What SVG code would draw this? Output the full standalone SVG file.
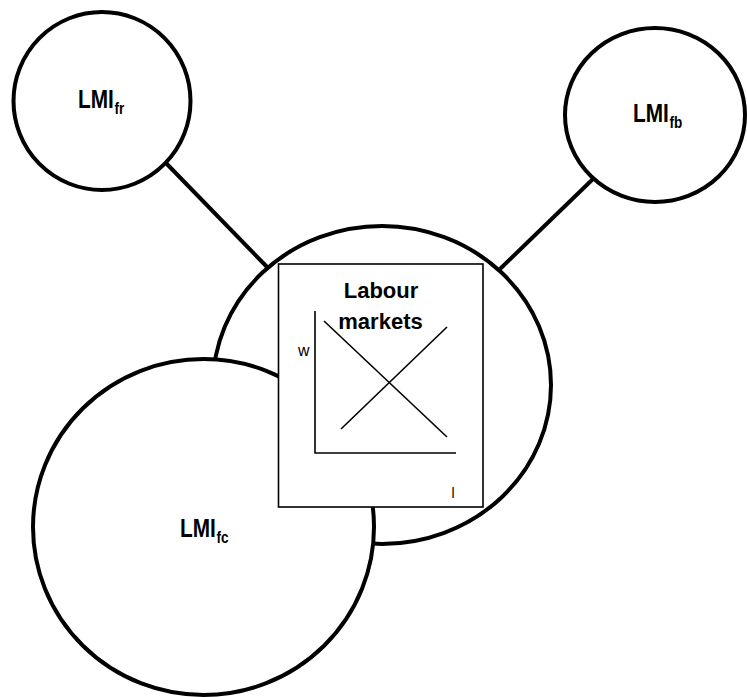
<svg xmlns="http://www.w3.org/2000/svg" width="747" height="697" viewBox="0 0 747 697">
<style>
.node{fill:#fff;stroke:#000;stroke-width:4}
.conn{stroke:#000;stroke-width:4;fill:none}
.box{fill:#fff;stroke:#000;stroke-width:1.6}
.thin{stroke:#000;stroke-width:1.6;fill:none}
.lbl{font-family:"Liberation Sans",Arial,sans-serif;font-weight:bold;fill:#000}
.sub{font-size:17px}
.sm{font-family:"Liberation Sans",Arial,sans-serif;fill:#000}
</style>
<rect width="747" height="697" fill="#fff"/>
<g id="connectors">
<line class="conn" x1="164" y1="161" x2="269" y2="269"/>
<line class="conn" x1="594" y1="178" x2="500" y2="269"/>
</g>
<g id="node-lmi-fr">
<ellipse class="node" cx="102" cy="101" rx="88.5" ry="89"/>
<text class="lbl" font-size="26" transform="translate(78,108) scale(0.8,1)">LMI<tspan class="sub" dx="1" dy="5.5">fr</tspan></text>
</g>
<g id="node-lmi-fb">
<ellipse class="node" cx="655" cy="115" rx="90" ry="87"/>
<text class="lbl" font-size="26" transform="translate(633,122) scale(0.8,1)">LMI<tspan class="sub" dx="1" dy="6">fb</tspan></text>
</g>
<g id="node-labour-circle">
<ellipse class="node" cx="382" cy="385" rx="169" ry="159"/>
</g>
<g id="node-lmi-fc">
<ellipse class="node" cx="203.5" cy="527" rx="170.5" ry="168"/>
<text class="lbl" font-size="26" transform="translate(180,537) scale(0.8,1)">LMI<tspan class="sub" dx="1" dy="6">fc</tspan></text>
</g>
<g id="node-labour-markets">
<rect class="box" x="278.5" y="264" width="204.5" height="243"/>
<text class="lbl" x="381" y="298" font-size="22" text-anchor="middle">Labour</text>
<text class="lbl" x="380.5" y="329" font-size="22" text-anchor="middle">markets</text>
<polyline class="thin" points="315,311 315,453 456,453"/>
<line class="thin" x1="324" y1="321" x2="447" y2="437"/>
<line class="thin" x1="341" y1="429" x2="447" y2="327"/>
<text class="sm" x="298" y="356" font-size="17" textLength="11.5" lengthAdjust="spacingAndGlyphs">w</text>
<text class="sm" x="451.5" y="498" font-size="14">l</text>
</g>
</svg>
